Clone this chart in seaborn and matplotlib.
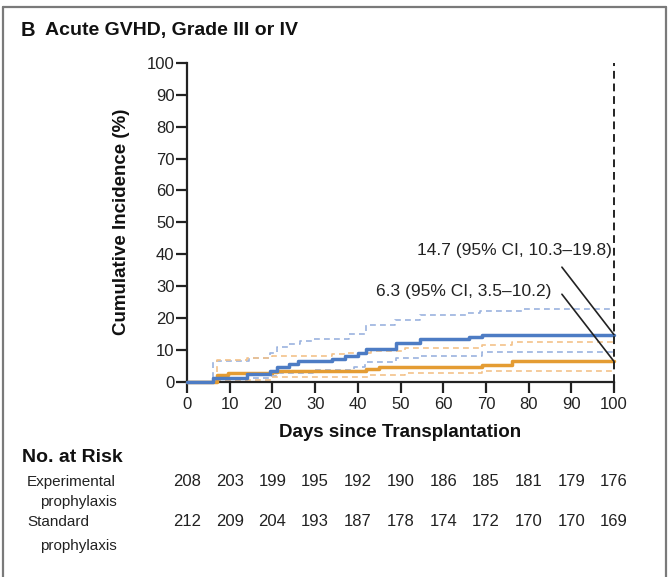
import matplotlib
matplotlib.use("Agg")
import matplotlib.pyplot as plt
import matplotlib.transforms as mtransforms
from matplotlib.lines import Line2D
import seaborn as sns

sns.set_theme(style="white")
plt.rcParams['font.family'] = ['Liberation Sans', 'DejaVu Sans']

# ---------------- data ----------------
# Experimental prophylaxis (blue)
exp_days = [0, 6, 14, 19.5, 21, 24, 26, 34, 37, 40, 42, 49, 54.5, 66, 69, 100]
exp_cum = [0, 1.0, 2.2, 3.4, 4.5, 5.6, 6.4, 7.2, 7.9, 8.8, 10.3, 12.0, 13.4, 14.0, 14.7, 14.7]
exp_up_days = [0, 6, 14.5, 19.5, 21, 24, 26.5, 29.5, 38, 42, 48.7, 54.6, 65.5, 68.6, 78.7, 100]
exp_up = [0, 6.4, 7.4, 8.9, 10.8, 11.9, 12.7, 13.3, 15.0, 17.6, 19.4, 20.8, 21.4, 22.1, 22.9, 22.9]
exp_lo_days = [0, 6, 14, 19.5, 21, 29.5, 39, 41.7, 49, 54.6, 69, 100]
exp_lo = [0, 0.5, 1.0, 1.8, 2.7, 3.5, 4.4, 6.2, 7.4, 8.1, 9.2, 9.2]

# Standard prophylaxis (orange)
std_days = [0, 7, 9.7, 20, 21, 42, 45, 51, 69, 76, 100]
std_cum = [0, 2.0, 2.7, 2.9, 3.2, 4.0, 4.4, 4.7, 5.2, 6.3, 6.3]
std_up_days = [0, 7, 14, 20, 34, 37.5, 43, 51, 69, 76, 100]
std_up = [0, 6.8, 7.3, 8.0, 8.5, 8.9, 9.5, 10.4, 11.4, 12.3, 12.3]
std_lo_days = [0, 7, 20, 42.5, 51, 69, 100]
std_lo = [0, 0.5, 1.3, 2.0, 2.6, 3.4, 3.4]

xticks = [0, 10, 20, 30, 40, 50, 60, 70, 80, 90, 100]
yticks = [0, 10, 20, 30, 40, 50, 60, 70, 80, 90, 100]
risk_exp = [208, 203, 199, 195, 192, 190, 186, 185, 181, 179, 176]
risk_std = [212, 209, 204, 193, 187, 178, 174, 172, 170, 170, 169]

exp_label = "14.7 (95% CI, 10.3\u201319.8)"
std_label = "6.3 (95% CI, 3.5\u201310.2)"

# ---------------- colours ----------------
BLUE = "#4d7cc4"
BLUE_L = "#9bb3df"
ORANGE = "#e49c33"
ORANGE_L = "#f3c28a"
DARK = "#222222"

W, H = 669, 577
fig = plt.figure(figsize=(W / 100, H / 100), dpi=100)
ax = fig.add_axes([187 / W, 1 - 381.5 / H, (614 - 187) / W, (381.5 - 63) / H])

def step(x, y, color, lw, dashed=False, z=3):
    sns.lineplot(x=x, y=y, ax=ax, drawstyle="steps-post", color=color,
                 linewidth=lw, linestyle=(0, (3.5, 2.5)) if dashed else "-",
                 zorder=z, clip_on=False, estimator=None, sort=False)

step(exp_up_days, exp_up, BLUE_L, 1.2, True, 2)
step(exp_lo_days, exp_lo, BLUE_L, 1.2, True, 2)
step(std_up_days, std_up, ORANGE_L, 1.2, True, 2)
step(std_lo_days, std_lo, ORANGE_L, 1.2, True, 2)
step(std_days, std_cum, ORANGE, 2.5, False, 3)
step(exp_days, exp_cum, BLUE, 2.5, False, 4)

# vertical dashed line at day 100
ax.plot([100, 100], [0, 100], color=DARK, lw=1.4, ls=(0, (4, 2.5)), clip_on=False, zorder=5)

ax.set_xlim(0, 100)
ax.set_ylim(0, 100)
ax.set_xticks(xticks)
ax.set_yticks(yticks)
ax.set_xticklabels([str(v) for v in xticks], fontsize=12, color=DARK)
ax.set_yticklabels([str(v) for v in yticks], fontsize=12, color=DARK)
for s in ["top", "right"]:
    ax.spines[s].set_visible(False)
for s in ["left", "bottom"]:
    ax.spines[s].set_color(DARK)
    ax.spines[s].set_linewidth(1.6)
ax.tick_params(axis="both", direction="out", length=8, width=1.6, color=DARK, pad=1,
               left=True, bottom=True)
ax.tick_params(axis="x", pad=3)
ax.set_xlabel("Days since Transplantation", fontsize=13.5, fontweight="bold", color="#111", labelpad=9)
ax.set_ylabel("Cumulative Incidence (%)", fontsize=13.5, fontweight="bold", color="#111", labelpad=12)

# annotations
ax.text(99.5, 41.2, exp_label, ha="right", va="center", fontsize=12.5, color=DARK)
ax.text(85.3, 28.3, std_label, ha="right", va="center", fontsize=12.5, color=DARK)
ax.plot([87.8, 100], [35.9, exp_cum[-1]], color=DARK, lw=1.2, clip_on=False, zorder=6)
ax.plot([87.8, 100], [27.4, std_cum[-1]], color=DARK, lw=1.2, clip_on=False, zorder=6)

# title
fig.text(21 / W, 1 - 30 / H, "B", fontsize=14.5, fontweight="bold", color="#111", va="center")
fig.text(45 / W, 1 - 30 / H, "Acute GVHD, Grade III or IV", fontsize=14, fontweight="bold",
         color="#111", va="center")

# number at risk table
trans = mtransforms.blended_transform_factory(ax.transData, fig.transFigure)
fig.text(22 / W, 1 - 458 / H, "No. at Risk", fontsize=14, fontweight="bold", color="#111", va="center")
fig.text(27 / W, 1 - 482 / H, "Experimental", fontsize=11, color=DARK, va="center")
fig.text(40 / W, 1 - 502 / H, "prophylaxis", fontsize=11, color=DARK, va="center")
fig.text(27 / W, 1 - 522 / H, "Standard", fontsize=11, color=DARK, va="center")
fig.text(40 / W, 1 - 546 / H, "prophylaxis", fontsize=11, color=DARK, va="center")
for x, a, b in zip(xticks, risk_exp, risk_std):
    ax.text(x, 1 - 482 / H, str(a), transform=trans, ha="center", va="center", fontsize=12, color=DARK)
    ax.text(x, 1 - 522 / H, str(b), transform=trans, ha="center", va="center", fontsize=12, color=DARK)

# panel frame
frame_kw = dict(color="#7a7a7a", lw=1.6, transform=fig.transFigure)
fig.add_artist(Line2D([3 / W, 3 / W], [0, 1 - 7 / H], **frame_kw))
fig.add_artist(Line2D([666 / W, 666 / W], [0, 1 - 7 / H], **frame_kw))
fig.add_artist(Line2D([3 / W, 666 / W], [1 - 7 / H, 1 - 7 / H], **frame_kw))

fig.savefig("out.png", dpi=100)
